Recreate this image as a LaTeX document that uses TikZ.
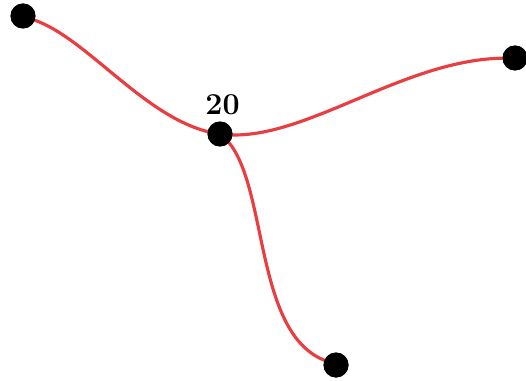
\documentclass[tikz,border=0pt]{standalone}
\usepackage{xcolor}
\usetikzlibrary{positioning}
\definecolor{qline}{RGB}{232,62,66}

\tikzset{
  junction/.style={circle, fill=black, inner sep=0pt, minimum size=0.5cm},
  branch/.style={qline, line width=1.8pt, line cap=round},
}

\begin{document}
\begin{tikzpicture}[x=0.02cm, y=-0.02cm]
\useasboundingbox (0,0) rectangle (526,381);
\node[junction] (mid) at (220,134) {};
\node[junction] (nw) at (23,16) {};
\node[junction] (east) at (515,58) {};
\node[junction] (south) at (336,365) {};
\node[font=\LARGE\bfseries, above=0cm of mid, xshift=0.05cm] (lbl) {20};
\draw[branch] (nw) .. controls (90,40) and (150,125) .. (mid.center);
\draw[branch] (mid.center) .. controls (300,145) and (400,60) .. (east);
\draw[branch] (mid.center) .. controls (270,170) and (250,330) .. (south);
% dots over the line ends
\foreach \n in {mid, nw, east, south}
  \fill (\n) circle (0.25cm);
\end{tikzpicture}
\end{document}
